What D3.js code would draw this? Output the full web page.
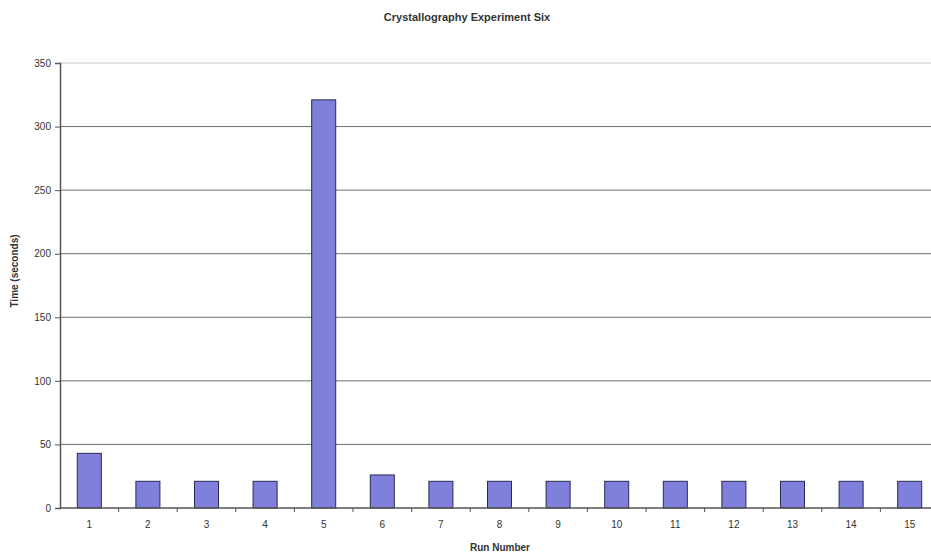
<!DOCTYPE html>
<html><head><meta charset="utf-8">
<script src="https://cdn.jsdelivr.net/npm/d3@7"></script>
<style>body{margin:0;background:#fff;}svg{display:block;}</style>
</head><body>
<script>
const categories = ["1","2","3","4","5","6","7","8","9","10","11","12","13","14","15"];
const times = [43, 21, 21, 21, 321, 26, 21, 21, 21, 21, 21, 21, 21, 21, 21];
const yTicks = [0, 50, 100, 150, 200, 250, 300, 350];
const chartTitle = "Crystallography Experiment Six";
const xTitle = "Run Number";
const yTitle = "Time (seconds)";

(function () {
const W = 931, H = 557;
const svg = d3.select("body").append("svg").attr("width", W).attr("height", H);
const mLeft = 60, mRight = 939, mTop = 63, mBottom = 508;

const x = d3.scaleBand().domain(categories).range([mLeft, mRight]).padding(0);
const y = d3.scaleLinear().domain([0, 350]).range([mBottom, mTop]);

// gridlines
svg.append("g").selectAll("line").data(yTicks.filter(d => d > 0)).join("line")
  .attr("x1", mLeft).attr("x2", W).attr("y1", d => y(d)).attr("y2", d => y(d))
  .attr("stroke", d => d === 350 ? "#c8c8c8" : "#6e6e6e").attr("stroke-width", 1);

// bars
const bw = x.bandwidth() * 0.41;
svg.append("g").selectAll("rect").data(times).join("rect")
  .attr("x", (d, i) => x(categories[i]) + (x.bandwidth() - bw) / 2)
  .attr("y", d => y(d))
  .attr("width", bw)
  .attr("height", d => y(0) - y(d))
  .attr("fill", "#7f7fdc")
  .attr("stroke", "#2a2a50").attr("stroke-width", 1);

// y axis
const yAxis = d3.axisLeft(y).tickValues(yTicks).tickSize(5).tickPadding(4);
const gy = svg.append("g").attr("transform", `translate(${mLeft},0)`).call(yAxis);
gy.select(".domain").attr("stroke", "#555").attr("stroke-width", 1.5);
gy.selectAll(".tick line").attr("stroke", "#555");
gy.selectAll("text").attr("font-family", "Arial, Liberation Sans, sans-serif").attr("font-size", 10).attr("fill", "#333");

// x axis
const gx = svg.append("g").attr("transform", `translate(0,${mBottom})`);
gx.append("line").attr("x1", mLeft).attr("x2", W).attr("y1", 0).attr("y2", 0).attr("stroke", "#555").attr("stroke-width", 1.5);
gx.selectAll(".tk").data(categories.slice(1)).join("line").attr("class", "tk")
  .attr("x1", d => x(d)).attr("x2", d => x(d)).attr("y1", 0).attr("y2", 4).attr("stroke", "#555");
gx.selectAll("text").data(categories).join("text")
  .attr("x", d => x(d) + x.bandwidth() / 2).attr("y", 20)
  .attr("text-anchor", "middle").attr("font-family", "Arial, Liberation Sans, sans-serif")
  .attr("font-size", 10).attr("fill", "#333").text(d => d);

// titles
svg.append("text").attr("x", 467).attr("y", 21).attr("text-anchor", "middle")
  .attr("font-family", "Arial, Liberation Sans, sans-serif").attr("font-weight", "bold")
  .attr("font-size", 11).attr("fill", "#333").text(chartTitle);
svg.append("text").attr("x", 500).attr("y", 551).attr("text-anchor", "middle")
  .attr("font-family", "Arial, Liberation Sans, sans-serif").attr("font-weight", "bold")
  .attr("font-size", 10).attr("fill", "#333").text(xTitle);
svg.append("text").attr("transform", "translate(18,271) rotate(-90)").attr("text-anchor", "middle")
  .attr("font-family", "Arial, Liberation Sans, sans-serif").attr("font-weight", "bold")
  .attr("font-size", 10).attr("fill", "#333").text(yTitle);
})();
</script>
</body></html>
